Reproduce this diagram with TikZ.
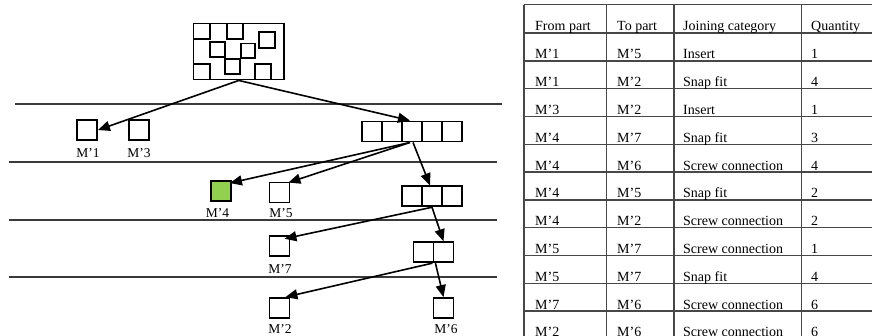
\documentclass[tikz,border=0pt]{standalone}
\usepackage{fontspec}
\setmainfont{Liberation Serif}
\usetikzlibrary{arrows.meta,calc}
\definecolor{partgreen}{HTML}{92D050}
\definecolor{linegray}{HTML}{3A3A3A}
\begin{document}
\begin{tikzpicture}[x=1pt,y=-1pt,
  part/.style={draw, line width=1.9pt, minimum width=20pt, minimum height=20pt, inner sep=0pt, fill=white},
  lbl/.style={font=\fontsize{13.5}{16}\selectfont, anchor=base, inner sep=0pt},
  cell/.style={font=\fontsize{14}{17}\selectfont, anchor=base west, inner sep=0pt},
  arr/.style={-{Triangle[length=12pt,width=10pt]}, line width=1.6pt},
  level/.style={line width=2pt, draw=linegray},
  grid/.style={line width=1.4pt, draw=black!72},
  sq/.style={line width=1.9pt}
]
\useasboundingbox (0,0) rectangle (872,335);

% level lines
\draw[level] (15,103.5) -- (502,103.5);
\draw[level] (9,162.3) -- (497,162.3);
\draw[level] (9,220.3) -- (497,220.3);
\draw[level] (9,277.3) -- (497,277.3);

% top assembly
\node[part, minimum width=90.5pt, minimum height=56pt] (top) at (238.75,51.5) {};
\draw[sq] (193.5,23.5) rectangle (210,39);
\draw[sq] (227,23.5) rectangle (243,39);
\draw[sq] (259,32) rectangle (275,48);
\draw[sq] (210,42) rectangle (225,57);
\draw[sq] (241,43.5) rectangle (255,58);
\draw[sq] (193.5,64) rectangle (210,79.5);
\draw[sq] (225,59) rectangle (240,74);
\draw[sq] (255,64) rectangle (271,79.5);

% level 1
\node[part] (m1) at (87,130) {};
\node[lbl] (m1l) at (88,157) {M’1};
\node[part] (m3) at (139,130) {};
\node[lbl] (m3l) at (139,157) {M’3};
\foreach \i/\n in {0/a,1/b,2/c,3/d,4/e}
  \node[part] (c5\n) at (372+20*\i,131.5) {};

% level 2
\node[part, fill=partgreen] (m4) at (221,191) {};
\node[lbl] (m4l) at (217.5,217.3) {M’4};
\node[part] (m5) at (279.5,192.5) {};
\node[lbl] (m5l) at (281,217.3) {M’5};
\foreach \i/\n in {0/a,1/b,2/c}
  \node[part] (c3\n) at (412+20*\i,196.3) {};

% level 3
\node[part] (m7) at (279.5,245.7) {};
\node[lbl] (m7l) at (280,273) {M’7};
\node[part] (c2a) at (423.5,252.2) {};
\node[part] (c2b) at (443.5,252.2) {};

% level 4
\node[part] (m2) at (279.5,308) {};
\node[lbl] (m2l) at (280,333) {M’2};
\node[part] (m6) at (443.5,308) {};
\node[lbl] (m6l) at (446,333) {M’6};

% arrows
\draw[arr] (top.south) -- (m1.east);
\draw[arr] (top.south) -- ($(c5c.north)+(-2,0)$);
\draw[arr] ($(c5c.south)+(-2,0)$) -- ($(m4.north east)+(-2,3)$);
\draw[arr] ($(c5c.south)+(-2,0)$) -- ($(m5.north east)+(-2,1)$);
\draw[arr] ($(c5c.south)+(1,0)$) -- ($(c3b.north)+(-2,0)$);
\draw[arr] (c3b.south) -- ($(m7.north east)+(-6,4)$);
\draw[arr] (c3b.south) -- (c2b.north);
\draw[arr] ($(c2a.south east)+(-2,0)$) -- ($(m2.north east)+(-5,0)$);
\draw[arr] ($(c2a.south east)+(1,0)$) -- (m6.north);

% table grid
\draw[grid] (524,4.5) -- (872,4.5);
\foreach \k in {0,...,11}
  \draw[grid] (524,{33+27.8*\k}) -- (872,{33+27.8*\k});
\foreach \x in {524,606.7,674,801.7}
  \draw[grid] (\x,4.5) -- (\x,336);

% table header
\node[cell] (h1) at (535,30.5) {From part};
\node[cell] (h2) at (617,30.5) {To part};
\node[cell] (h3) at (683,30.5) {Joining category};
\node[cell] (h4) at (811,30.5) {Quantity};

% table rows
\foreach \k/\a/\b/\c/\d in {
  1/M’1/M’5/Insert/1,
  2/M’1/M’2/Snap fit/4,
  3/M’3/M’2/Insert/1,
  4/M’4/M’7/Snap fit/3,
  5/M’4/M’6/Screw connection/4,
  6/M’4/M’5/Snap fit/2,
  7/M’4/M’2/Screw connection/2,
  8/M’5/M’7/Screw connection/1,
  9/M’5/M’7/Snap fit/4,
  10/M’7/M’6/Screw connection/6,
  11/M’2/M’6/Screw connection/6}{
  \node[cell] (r\k-a) at (535,{31+27.8*\k}) {\a};
  \node[cell] (r\k-b) at (617,{31+27.8*\k}) {\b};
  \node[cell] (r\k-c) at (683,{31+27.8*\k}) {\c};
  \node[cell] (r\k-d) at (811,{31+27.8*\k}) {\d};
}
\end{tikzpicture}
\end{document}
